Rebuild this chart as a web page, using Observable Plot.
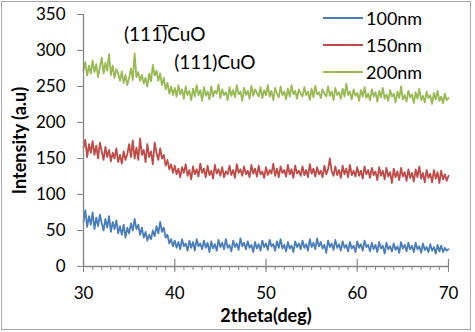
<!DOCTYPE html>
<html>
<head>
<meta charset="utf-8">
<script src="https://cdn.jsdelivr.net/npm/d3@7"></script>
<script src="https://cdn.jsdelivr.net/npm/@observablehq/plot@0.6"></script>
<style>
  body { margin: 0; background: #fff; }
  #wrap { position: relative; width: 475px; height: 332px; font-family: Lato, "Open Sans", sans-serif; }
  #border { position: absolute; left: 1px; top: 1px; width: 468px; height: 327px; border: 1.5px solid #a6a6a6; pointer-events: none; }
  #legend { position: absolute; left: 323px; top: 4px; font-size: 18px; color: #000; }
  #legend .row { display: flex; align-items: center; height: 27px; }
  #legend .sw { width: 40px; height: 0; border-top: 2px solid; margin-right: 3px; }
  svg [aria-label="x-axis label"] text, svg [aria-label="y-axis label"] text { font-weight: bold; font-size: 18px; }
</style>
</head>
<body>
<div id="wrap"><div id="border"></div><div id="legend"></div></div>
<script>
// 2theta sampling grid (deg), 0.2 deg step
const twoTheta = d3.range(0, 201).map(i => +(30 + i * 0.2).toFixed(1));

const seriesNames = ["100nm", "150nm", "200nm"];
const seriesColors = ["#4a7ebb", "#be4b48", "#98b954"];

const i100 = [
  62, 78, 55, 70, 58, 75, 52, 68, 56, 72,
  60, 50, 66, 54, 70, 48, 62, 52, 64, 46,
  56, 44, 58, 40, 54, 46, 60, 50, 66, 52,
  58, 44, 54, 40, 48, 36, 44, 38, 50, 42,
  56, 46, 62, 48, 54, 40, 44, 32, 38, 28,
  36, 26, 34, 24, 38, 28, 32, 22, 36, 26,
  34, 22, 38, 28, 32, 24, 36, 26, 33, 20,
  35, 25, 31, 22, 37, 27, 33, 24, 38, 26,
  30, 21, 36, 27, 32, 23, 39, 28, 33, 24,
  35, 26, 30, 20, 34, 25, 31, 22, 36, 27,
  32, 23, 37, 28, 31, 22, 35, 26, 38, 25,
  30, 21, 34, 25, 29, 20, 35, 27, 32, 24,
  36, 26, 31, 22, 38, 27, 33, 24, 39, 28,
  34, 25, 30, 19, 36, 27, 32, 23, 37, 26,
  31, 22, 35, 26, 30, 21, 34, 25, 29, 20,
  35, 26, 31, 22, 36, 27, 30, 21, 33, 24,
  30, 20, 34, 25, 29, 18, 33, 24, 28, 21,
  32, 23, 28, 19, 34, 25, 30, 21, 33, 24,
  29, 20, 33, 24, 28, 19, 32, 23, 27, 20,
  31, 22, 27, 18, 30, 21, 29, 20, 26, 22,
  24
];
const i150 = [
  165, 176, 152, 170, 158, 174, 155, 168, 150, 172,
  160, 148, 166, 152, 162, 146, 158, 150, 164, 145,
  155, 143, 160, 148, 156, 170, 152, 175, 150, 165,
  148, 178, 155, 162, 145, 170, 152, 160, 142, 172,
  158, 148, 164, 150, 155, 140, 148, 135, 142, 130,
  140, 128, 136, 124, 138, 130, 142, 126, 134, 121,
  139, 128, 135, 125, 143, 130, 136, 124, 140, 127,
  133, 122, 141, 129, 135, 126, 138, 124, 132, 128,
  140, 127, 134, 123, 142, 130, 135, 126, 139, 128,
  133, 124, 141, 129, 136, 125, 140, 128, 132, 123,
  138, 127, 134, 129, 143, 126, 136, 124, 139, 130,
  134, 125, 141, 128, 135, 123, 140, 129, 133, 126,
  139, 127, 134, 124, 142, 129, 136, 125, 138, 128,
  133, 124, 140, 128, 135, 150, 132, 126, 139, 127,
  134, 123, 140, 128, 136, 124, 141, 127, 133, 125,
  138, 126, 133, 122, 139, 128, 134, 123, 137, 127,
  132, 120, 138, 126, 133, 121, 137, 125, 131, 116,
  136, 124, 132, 120, 137, 125, 131, 119, 135, 123,
  130, 118, 135, 124, 139, 122, 130, 117, 134, 123,
  129, 117, 134, 122, 131, 116, 133, 121, 128, 119,
  126
];
const i200 = [
  272, 284, 265, 279, 268, 286, 270, 281, 263, 277,
  290, 268, 283, 272, 295, 266, 279, 262, 274, 268,
  258, 271, 255, 266, 252, 262, 275, 259, 296, 263,
  270, 258, 266, 254, 262, 250, 268, 257, 280, 265,
  272, 258, 268, 252, 262, 246, 255, 240, 250, 238,
  248, 236, 252, 239, 246, 233, 250, 238, 244, 231,
  247, 236, 252, 238, 245, 230, 249, 237, 243, 232,
  250, 236, 244, 240, 253, 234, 246, 238, 242, 231,
  249, 237, 245, 235, 252, 239, 243, 230, 248, 238,
  244, 233, 251, 237, 246, 241, 236, 249, 234, 245,
  238, 252, 236, 244, 231, 248, 240, 235, 250, 238,
  243, 232, 247, 236, 252, 239, 244, 233, 246, 240,
  236, 249, 238, 243, 231, 247, 235, 251, 239, 242,
  234, 246, 240, 236, 250, 237, 243, 231, 248, 238,
  242, 233, 247, 236, 254, 238, 243, 232, 246, 237,
  241, 230, 245, 236, 249, 234, 240, 231, 246, 236,
  242, 229, 244, 235, 248, 233, 239, 230, 245, 236,
  240, 228, 243, 234, 250, 232, 238, 229, 244, 235,
  239, 227, 242, 233, 247, 231, 237, 228, 243, 234,
  238, 226, 241, 232, 244, 230, 236, 227, 240, 231,
  234
];

const xTicks = [30, 40, 50, 60, 70];
const xMinorTicks = d3.range(30, 71, 1);
const yTicks = [0, 50, 100, 150, 200, 250, 300, 350];

const annotationText = ["(11\u0031\u0305)CuO", "(111)CuO"];
const annotationX = [38.9, 44.4];
const annotationY = [321, 283];

const seriesValues = [i100, i150, i200];
const rows = [];
seriesValues.forEach((vals, s) => vals.forEach((v, i) => rows.push({x: twoTheta[i], y: v, s: seriesNames[s]})));
const notes = annotationText.map((t, i) => ({t, x: annotationX[i], y: annotationY[i]}));

const axisColor = "#868686";

const chart = Plot.plot({
  width: 475,
  height: 332,
  marginLeft: 83,
  marginRight: 27,
  marginTop: 14,
  marginBottom: 66,
  style: {fontFamily: "Lato, 'Open Sans', sans-serif", fontSize: "17px", color: "#000", background: "transparent", overflow: "visible"},
  x: {domain: [30, 70]},
  y: {domain: [0, 350]},
  color: {domain: seriesNames, range: seriesColors},
  marks: [
    Plot.line(rows, {x: "x", y: "y", z: "s", stroke: "s", strokeWidth: 1.8}),
    Plot.ruleY([0], {stroke: axisColor, strokeWidth: 1.3}),
    Plot.ruleX([30], {stroke: axisColor, strokeWidth: 1.3}),
    Plot.axisX({ticks: xMinorTicks, tickSize: 4, stroke: axisColor, tickFormat: null, text: null, label: null}),
    Plot.ruleX(xTicks, {y1: 0, y2: 10, stroke: axisColor, strokeWidth: 1.2}),
    Plot.axisX({ticks: xTicks, tickSize: 6, tickPadding: 14, stroke: axisColor, fill: "#000", fontSize: 17, tickFormat: d => d,
      label: "2theta(deg)", labelAnchor: "center", labelArrow: false, labelOffset: 55}),
    Plot.axisY({ticks: yTicks, tickSize: 6, tickPadding: 12, stroke: axisColor, fill: "#000", fontSize: 17, tickFormat: d => d,
      label: "Intensity (a.u)", labelAnchor: "center", labelArrow: false, labelOffset: 70}),
    Plot.text(notes, {x: "x", y: "y", text: "t", fontSize: 19, fill: "#000"})
  ]
});
document.getElementById("wrap").prepend(chart);

const legend = document.getElementById("legend");
seriesNames.forEach((n, i) => {
  const row = document.createElement("div");
  row.className = "row";
  const sw = document.createElement("span");
  sw.className = "sw";
  sw.style.borderTopColor = seriesColors[i];
  const lab = document.createElement("span");
  lab.textContent = n;
  row.append(sw, lab);
  legend.append(row);
});
</script>
</body>
</html>
